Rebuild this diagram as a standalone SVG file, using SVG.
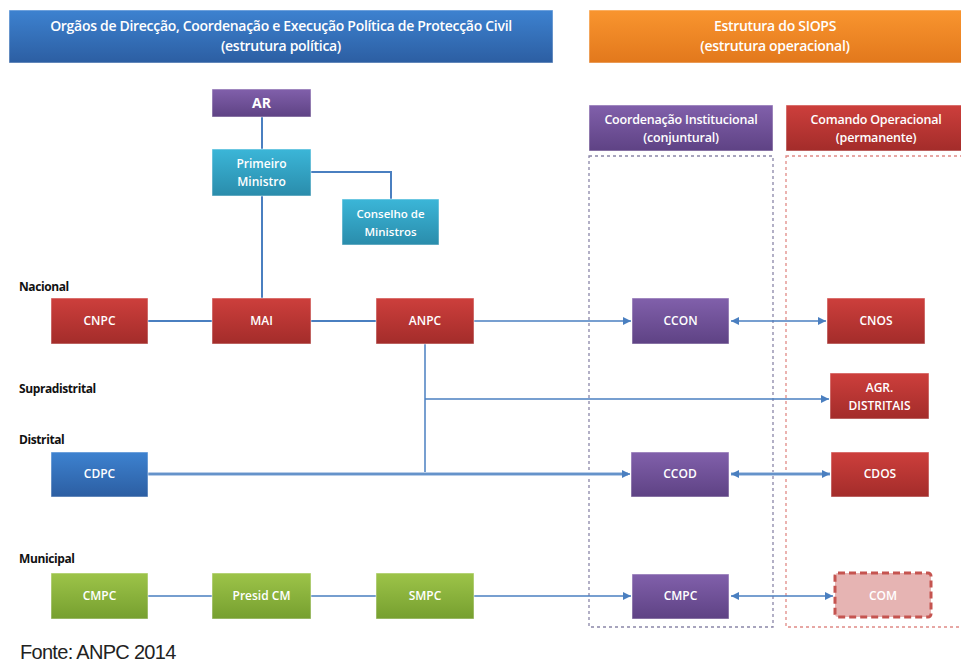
<svg xmlns="http://www.w3.org/2000/svg" width="961" height="665" viewBox="0 0 961 665">
<defs>
<linearGradient id="gBlue" x1="0" y1="0" x2="0" y2="1"><stop offset="0" stop-color="#3d82d0"/><stop offset="1" stop-color="#2c5ea2"/></linearGradient>
<linearGradient id="gOrange" x1="0" y1="0" x2="0" y2="1"><stop offset="0" stop-color="#f9952f"/><stop offset="1" stop-color="#e2781c"/></linearGradient>
<linearGradient id="gPurple" x1="0" y1="0" x2="0" y2="1"><stop offset="0" stop-color="#8160ab"/><stop offset="1" stop-color="#5e4284"/></linearGradient>
<linearGradient id="gRed" x1="0" y1="0" x2="0" y2="1"><stop offset="0" stop-color="#cd3f3c"/><stop offset="1" stop-color="#a32c2a"/></linearGradient>
<linearGradient id="gTeal" x1="0" y1="0" x2="0" y2="1"><stop offset="0" stop-color="#3bb6d8"/><stop offset="1" stop-color="#2a8cab"/></linearGradient>
<linearGradient id="gGreen" x1="0" y1="0" x2="0" y2="1"><stop offset="0" stop-color="#9dc449"/><stop offset="1" stop-color="#769f2f"/></linearGradient>
<marker id="arr" viewBox="0 0 10 10" refX="10" refY="5" markerWidth="8" markerHeight="8" markerUnits="userSpaceOnUse" orient="auto-start-reverse"><path d="M0,0 L10,5 L0,10 z" fill="#4a7fc0"/></marker>
<style>
.t{font-family:"Open Sans","Liberation Sans",sans-serif;font-size:12px;fill:#fff;text-anchor:middle;font-weight:600}
.h{font-family:"Open Sans","Liberation Sans",sans-serif;font-size:14px;fill:#fff;text-anchor:middle;font-weight:600;letter-spacing:-0.3px}
.s{font-family:"Open Sans","Liberation Sans",sans-serif;font-size:12.5px;fill:#fff;text-anchor:middle;font-weight:600;letter-spacing:-0.2px}
.lv{font-family:"Open Sans","Liberation Sans",sans-serif;font-size:12px;fill:#111;font-weight:700;letter-spacing:-0.4px}
.ln{stroke:#4a7fc0;stroke-width:2;fill:none}
.la{stroke:#4a7fc0;stroke-width:1.5;fill:none}
.bx{stroke:#ffffff;stroke-opacity:0.5;stroke-width:1}
</style>
</defs>
<g id="headers">
<rect x="9" y="10" width="544" height="53" fill="url(#gBlue)" class="bx"/>
<text class="h" x="281" y="31">Orgãos de Direcção, Coordenação e Execução Política de Protecção Civil</text>
<text class="h" x="281" y="51">(estrutura política)</text>
<rect x="589" y="10" width="380" height="53" fill="url(#gOrange)" class="bx"/>
<text class="h" x="775" y="31">Estrutura do SIOPS</text>
<text class="h" x="775" y="51">(estrutura operacional)</text>
<rect x="589" y="105" width="184" height="46" fill="url(#gPurple)" class="bx"/>
<text class="s" x="681" y="124">Coordenação Institucional</text>
<text class="s" x="681" y="142">(conjuntural)</text>
<rect x="786" y="105" width="180" height="46" fill="url(#gRed)" class="bx"/>
<text class="s" x="876" y="124">Comando Operacional</text>
<text class="s" x="876" y="142">(permanente)</text>
<rect x="589" y="156" width="184" height="471" fill="none" stroke="#8a86a8" stroke-width="1.3" stroke-dasharray="3,3"/>
<rect x="786" y="156" width="190" height="471" fill="none" stroke="#e08a86" stroke-width="1.3" stroke-dasharray="3,3"/>
</g>
<g id="levels">
<text class="lv" x="19" y="291">Nacional</text>
<text class="lv" x="19" y="393">Supradistrital</text>
<text class="lv" x="19" y="444">Distrital</text>
<text class="lv" x="19" y="563">Municipal</text>
</g>
<g id="connectors">
<path class="ln" d="M262,117 V149 M262,196 V298 M311,172 H391 V199"/>
<path class="ln" d="M148,321 H212 M311,321 H376"/>
<path class="la" d="M474,321 H631" marker-end="url(#arr)"/>
<path class="la" d="M731,321 H826" marker-start="url(#arr)" marker-end="url(#arr)"/>
<path class="la" d="M425,344 V474"/>
<path class="la" d="M425,399 H829" marker-end="url(#arr)"/>
<path d="M148,474 H628" stroke="#b8cde8" stroke-width="4" fill="none"/>
<path class="la" d="M148,474 H630" marker-end="url(#arr)"/>
<path d="M731,474 H830" stroke="#b8cde8" stroke-width="4" fill="none"/>
<path class="la" d="M731,474 H830" marker-start="url(#arr)" marker-end="url(#arr)"/>
<path class="la" d="M148,596 H212 M311,596 H376"/>
<path class="la" d="M474,596 H631" marker-end="url(#arr)"/>
<path class="la" d="M731,596 H833" marker-start="url(#arr)" marker-end="url(#arr)"/>
</g>
<g id="AR"><rect x="212" y="89" width="99" height="28" fill="url(#gPurple)" class="bx"/><text class="t" x="261.5" y="108" style="font-size:14px;font-weight:700">AR</text></g>
<g id="PM"><rect x="212" y="149" width="99" height="47" fill="url(#gTeal)" class="bx"/><text class="t" x="261.5" y="168">Primeiro</text><text class="t" x="261.5" y="186">Ministro</text></g>
<g id="CM"><rect x="342" y="199" width="97" height="46" fill="url(#gTeal)" class="bx"/><text class="t" x="390.5" y="218" style="font-size:11.5px">Conselho de</text><text class="t" x="390.5" y="236" style="font-size:11.5px">Ministros</text></g>
<g id="CNPC"><rect x="51" y="298" width="97" height="46" fill="url(#gRed)" class="bx"/><text class="t" x="99.5" y="325">CNPC</text></g>
<g id="MAI"><rect x="212" y="298" width="99" height="46" fill="url(#gRed)" class="bx"/><text class="t" x="261.5" y="325">MAI</text></g>
<g id="ANPC"><rect x="376" y="298" width="98" height="46" fill="url(#gRed)" class="bx"/><text class="t" x="425" y="325">ANPC</text></g>
<g id="CCON"><rect x="632" y="298" width="97" height="46" fill="url(#gPurple)" class="bx"/><text class="t" x="680.5" y="325">CCON</text></g>
<g id="CNOS"><rect x="827" y="298" width="98" height="46" fill="url(#gRed)" class="bx"/><text class="t" x="876" y="325">CNOS</text></g>
<g id="AGR"><rect x="830" y="373" width="99" height="46" fill="url(#gRed)" class="bx"/><text class="t" x="879.5" y="392">AGR.</text><text class="t" x="879.5" y="410">DISTRITAIS</text></g>
<g id="CDPC"><rect x="51" y="452" width="97" height="45" fill="url(#gBlue)" class="bx"/><text class="t" x="99.5" y="478">CDPC</text></g>
<g id="CCOD"><rect x="631" y="452" width="98" height="45" fill="url(#gPurple)" class="bx"/><text class="t" x="680" y="478">CCOD</text></g>
<g id="CDOS"><rect x="831" y="452" width="98" height="45" fill="url(#gRed)" class="bx"/><text class="t" x="880" y="478">CDOS</text></g>
<g id="CMPCm"><rect x="51" y="573" width="97" height="46" fill="url(#gGreen)" class="bx"/><text class="t" x="99.5" y="600">CMPC</text></g>
<g id="PresidCM"><rect x="212" y="573" width="99" height="46" fill="url(#gGreen)" class="bx"/><text class="t" x="261.5" y="600">Presid CM</text></g>
<g id="SMPC"><rect x="376" y="573" width="98" height="46" fill="url(#gGreen)" class="bx"/><text class="t" x="425" y="600">SMPC</text></g>
<g id="CMPCi"><rect x="632" y="574" width="97" height="45" fill="url(#gPurple)" class="bx"/><text class="t" x="680.5" y="600">CMPC</text></g>
<g id="COM"><rect x="835" y="573" width="96" height="44" rx="3" fill="#e6b4b3" stroke="#c55450" stroke-width="3" stroke-dasharray="7,4"/><text class="t" x="883" y="600">COM</text></g>
<g id="source"><text x="20" y="659" style="font-family:'Liberation Sans',sans-serif;font-size:20px;fill:#222;letter-spacing:-0.7px">Fonte: ANPC 2014</text></g>
</svg>
